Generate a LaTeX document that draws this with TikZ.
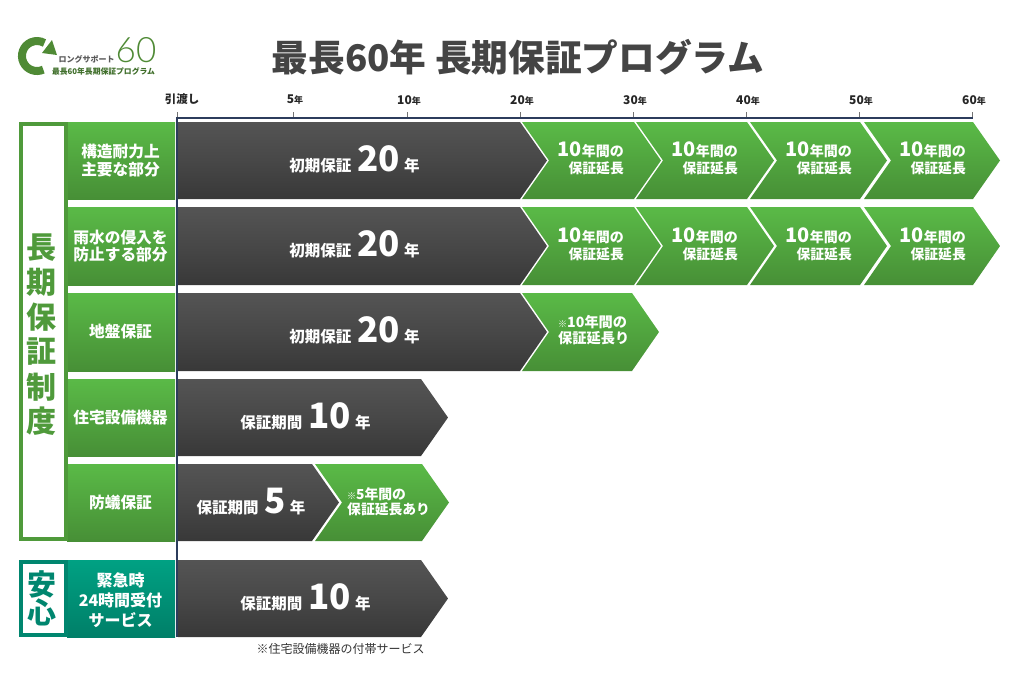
\documentclass[tikz,border=0pt]{standalone}
\usepackage{fontspec}
\setmainfont{Noto Sans CJK JP}
\newfontfamily\thinfont{Lato Light}
\usetikzlibrary{positioning}
\usetikzlibrary{calc}
\definecolor{axisblue}{HTML}{2C3C5C}
\definecolor{titlegray}{HTML}{444444}
\definecolor{logogreen}{HTML}{4F8A35}
\definecolor{framegreen}{HTML}{4F9A3B}
\definecolor{frameteal}{HTML}{00866F}
\newcommand{\fsize}[1]{\fontsize{#1}{#1}\selectfont}
\newcommand{\barlabel}[3]{\fsize{15.5}#1\hspace{6pt}\fsize{35}#2\hspace{4pt}\fsize{15.5}#3}
\tikzset{
    % Dark bars for the guarantee itself
    dark fill/.style={top color=black!67, bottom color=black!78, middle color=black!72},
    % Green bars for the extensions
    green fill/.style={top color={rgb,255:red,90;green,186;blue,71},
        bottom color={rgb,255:red,71;green,143;blue,54}},
    % The teal box at the bottom
    teal fill/.style={top color={rgb,255:red,0;green,161;blue,131},
        bottom color={rgb,255:red,0;green,127;blue,104}},
    bar text/.style={text=white, font=\bfseries, align=center, inner sep=0},
    tick text/.style={text=black!85, font=\bfseries, inner sep=0},
    side text/.style={font=\bfseries\fsize{30}, inner sep=0}}

% x end, top, bottom
\newcommand{\darkbar}[3]{
    \path [dark fill] (178,#2) -- (#1,#2) -- ({#1+27},{(#2+#3)/2}) -- (#1,#3) -- (178,#3) -- cycle;
}
% x start, x end, top, bottom
\newcommand{\greenbar}[4]{
    \path [green fill] (#1,#3) -- (#2,#3) -- ({#2+27},{(#3+#4)/2}) -- (#2,#4) -- (#1,#4)
        -- ({#1+27},{(#3+#4)/2}) -- cycle;
}

\begin{document}
\begin{tikzpicture}[x=1pt, y=-1pt]

\useasboundingbox (0,0) rectangle (1024,683);

% Logo and title

\draw [logogreen, line width=8pt] (43.3,69.6) arc (65:300:15);
\path [fill=logogreen] (57,55) -- (52,40) -- (42,53) -- cycle;

\node [inner sep=0, text=black!65, font=\bfseries\fsize{8}] (logotop) at (86.5,59) {ロングサポート};
\node [inner sep=0, text=logogreen, font=\thinfont\fsize{35}] (logosixty) at (136,50) {60};
\node [inner sep=0, text=logogreen!80!black, font=\bfseries\fsize{7.8}] (logobottom) at (103.5,71.5) {最長60年長期保証プログラム};

\node [inner sep=0, text=titlegray, font=\bfseries\fsize{36.7}] (title) at (518,57) {最長60年 長期保証プログラム};

% Time axis

\node [tick text, font=\bfseries\fsize{11.5}] (handover) at (182,99) {引渡し};
\foreach \tickx/\years in {293/5, 407/10, 520/20, 633/30, 746/40, 859/50, 972/60} {
    \draw [black!55, thin] (\tickx,112) -- (\tickx,118);
    \node [tick text] (year\years) at (\tickx+2,100) {\fsize{12}\years\fsize{9}年};
}
\draw [black!55, thin] (177.5,112) -- (177.5,118);
\draw [axisblue, line width=2pt] (177,118) -- (973,118);

% Guarantee rows

\foreach \rowtop/\rowbot in {122/199, 207/285} {
    \darkbar{520}{\rowtop}{\rowbot}
    \greenbar{522}{634}{\rowtop}{\rowbot}
    \greenbar{636}{747}{\rowtop}{\rowbot}
    \greenbar{750}{860}{\rowtop}{\rowbot}
    \greenbar{864}{973}{\rowtop}{\rowbot}
    \foreach \barx in {624, 738, 852, 966} {
        \node [bar text, anchor=east, align=right] (ext\barx\rowtop) at (\barx,{(\rowtop+\rowbot)/2-2})
            {\fsize{20}10\fsize{14}年間の\\[3pt]\fsize{13.8}保証延長};
    }
    \node [bar text] (initial\rowtop) at (354.5,{(\rowtop+\rowbot)/2-1.5})
        {\barlabel{初期保証}{20}{年}};
}

\darkbar{520}{293}{371}
\greenbar{522}{632}{293}{371}
\node [bar text] (initial293) at (354.5,330.5) {\barlabel{初期保証}{20}{年}};
\node [bar text, anchor=west, align=left] (ext293) at (558,330)
    {\fsize{9}※\fsize{14.2}10年間の\\[2pt]\fsize{14.2}保証延長り};

\darkbar{421}{379}{456}
\node [bar text] (term379) at (305.5,416.5) {\barlabel{保証期間}{10}{年}};

\darkbar{312}{464}{541}
\greenbar{315}{422}{464}{541}
\node [bar text] (term464) at (251,501.5) {\barlabel{保証期間}{5}{年}};
\node [bar text, anchor=west, align=left] (ext464) at (347,501.5)
    {\fsize{9}※\fsize{13.8}5年間の\\[1pt]\fsize{13.8}保証延長あり};

\darkbar{421}{560}{637}
\node [bar text] (term560) at (305.5,597.5) {\barlabel{保証期間}{10}{年}};

\draw [axisblue, line width=1.6pt] (177,117) -- (177,637);

% Row headings

\foreach \rowtop/\rowbot/\rowtext in {
    122/199/{構造耐力上\\[2pt]主要な部分},
    207/285/{雨水の侵入を\\[2pt]防止する部分},
    293/371/{地盤保証},
    379/456/{住宅設備機器},
    464/541/{防蟻保証}} {
    \path [green fill] (67,\rowtop) rectangle (175,\rowbot);
    \node [bar text, font=\bfseries\fsize{15.7}] (head\rowtop) at (120.5,{(\rowtop+\rowbot)/2}) {\rowtext};
}
\path [teal fill] (67,560) rectangle (175,637);
\node [bar text, font=\bfseries\fsize{16}] (head560) at (120.5,600) {緊急時\\[4pt]24時間受付\\[4pt]サービス};

\draw [framegreen, line width=4pt] (21,124) rectangle (66,539);
\draw [frameteal, line width=4pt] (21,562) rectangle (66,635);

\foreach \sidey/\sidechar in {248/長, 282.5/期, 317/保, 352/証, 387/制, 421.5/度} {
    \node [side text, text=framegreen] (side\sidey) at (42,\sidey) {\sidechar};
}
\node [side text, text=frameteal, font=\bfseries\fsize{29}] (safe) at (42,584.5) {安};
\node [side text, text=frameteal, font=\bfseries\fsize{29}] (heart) at (42,612.5) {心};

% Footnote

\node [inner sep=0, text=black!80, font=\fsize{12}] (footnote) at (340.5,649) {※住宅設備機器の付帯サービス};

\end{tikzpicture}
\end{document}
